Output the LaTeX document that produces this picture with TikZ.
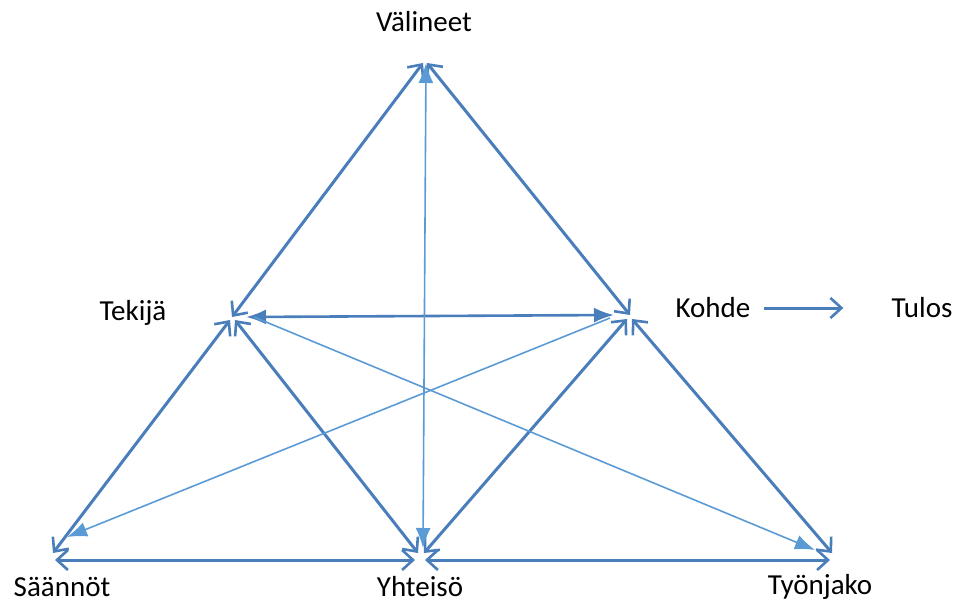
\documentclass[tikz,border=0pt]{standalone}
\usepackage{fontspec}
\setmainfont{Carlito}
\usetikzlibrary{arrows.meta}
\definecolor{paksusin}{HTML}{4A7EBB}
\definecolor{ohutsin}{HTML}{5B9BD5}
\tikzset{
	paksu/.style={draw=paksusin, line width=3pt, {Straight Barb[length=11pt, width=20pt, line width=2.6pt]}-{Straight Barb[length=11pt, width=20pt, line width=2.6pt]}},
	paksuyksi/.style={draw=paksusin, line width=3pt, -{Straight Barb[length=11pt, width=20pt, line width=2.6pt]}},
	keski/.style={draw=paksusin, line width=2.6pt, {Latex[length=20pt, width=15pt]}-{Latex[length=20pt, width=15pt]}},
	ohut/.style={draw=ohutsin, line width=1.6pt, -{Latex[length=20pt, width=15pt]}},
	ohutmolemmat/.style={draw=ohutsin, line width=1.6pt, {Latex[length=20pt, width=15pt]}-{Latex[length=20pt, width=15pt]}},
	teksti/.style={font=\fontsize{29}{31}\selectfont, text=black, inner sep=0pt}
}

\begin{document}
\begin{tikzpicture}[x=1pt, y=-1pt]
	\useasboundingbox (0,0) rectangle (959,603);
	
	% kolmion kulmat
	\coordinate (v) at (425,63);
	\coordinate (t) at (232,317);
	\coordinate (k) at (630,315);
	\coordinate (s) at (52,556);
	\coordinate (y) at (421,556);
	\coordinate (j) at (833,556);
	
	\node[teksti] (valineet) at (424,22) {Välineet};
	\node[teksti] (tekija) at (133,313) {Tekijä};
	\node[teksti] (kohde) at (713,308) {Kohde};
	\node[teksti] (tulos) at (922,308) {Tulos};
	\node[teksti] (saannot) at (62,587) {Säännöt};
	\node[teksti] (yhteiso) at (420,587) {Yhteisö};
	\node[teksti] (tyonjako) at (820,587) {Työnjako};
	
	\draw[paksu] ([xshift=-2pt]v) -- (t);
	\draw[paksu] ([xshift=2pt]v) -- (k);
	\draw[paksu] ([shift={(-2,3)}]t) -- ([shift={(1,-3)}]s);
	\draw[paksu] ([shift={(3,3)}]t) -- ([shift={(-3,-3)}]y);
	\draw[paksu] ([shift={(-3,4)}]k) -- ([shift={(3,-3)}]y);
	\draw[paksu] ([shift={(2,4)}]k) -- ([shift={(-1,-3)}]j);
	\draw[paksu] ([shift={(3,4)}]s) -- ([shift={(-6,4)}]y);
	\draw[paksu] ([shift={(4,4)}]y) -- ([shift={(-3,4)}]j);
	\draw[keski] ([xshift=14pt]t) -- ([xshift=-16pt]k);
	
	\draw[ohutmolemmat] ([xshift=1pt]v) -- ([shift={(2,-8)}]y);
	\draw[ohut] ([xshift=22pt]t) -- ([shift={(-18,-6)}]j);
	\draw[ohut] ([shift={(-20,3)}]k) -- ([shift={(15,-19)}]s);
	
	\draw[paksuyksi] ([xshift=13pt]kohde.east) -- ([xshift=-48pt]tulos.west);
\end{tikzpicture}
\end{document}
